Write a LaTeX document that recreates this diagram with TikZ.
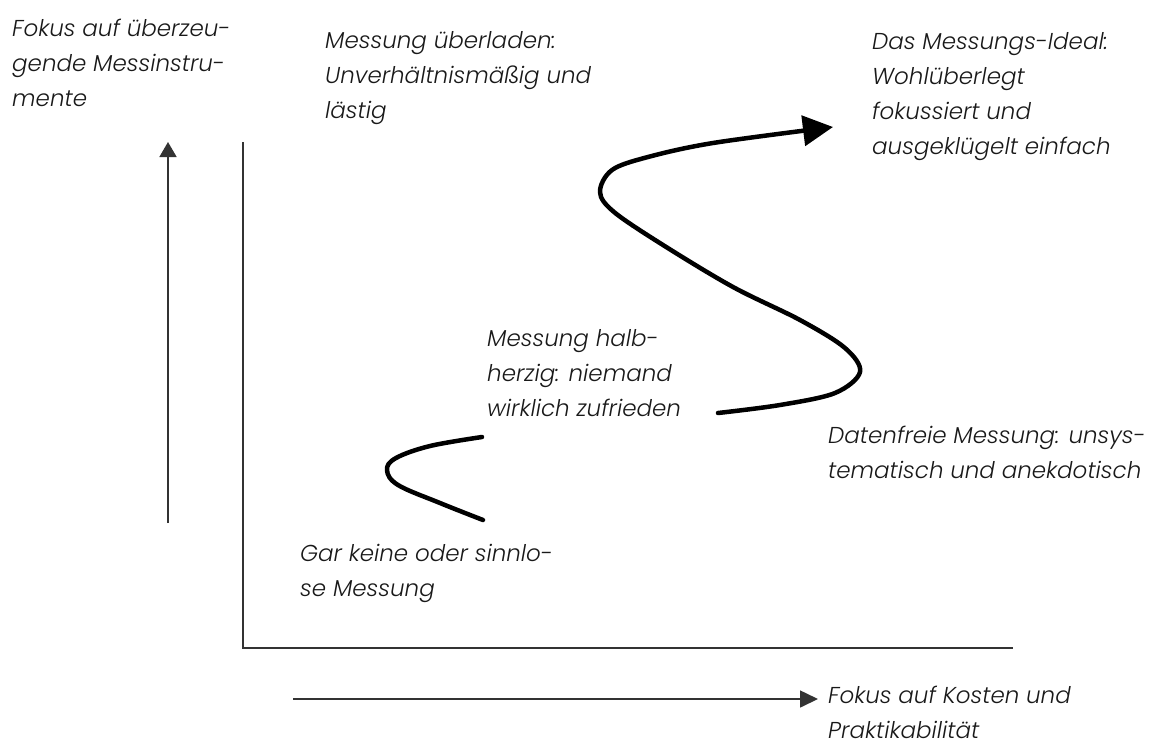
\documentclass[tikz,border=0pt]{standalone}
\usepackage{fontspec}
\setmainfont{Poppins}[UprightFont=* Light, ItalicFont=* Light Italic]
\usetikzlibrary{arrows.meta}
\tikzset{
  lbl/.style={anchor=base west, inner sep=0pt, align=left, text=black!90, font=\fontsize{23}{35}\selectfont\itshape},
  axis/.style={line width=1.6pt, black!80},
  curve/.style={line width=4.5pt, line cap=round, line join=round},
}
\begin{document}
\begin{tikzpicture}[x=1pt,y=-1pt]
\useasboundingbox (0,0) rectangle (1164,745);
% axes
\coordinate (ytop) at (243,142);
\coordinate (origin) at (243,648);
\coordinate (xend) at (1013,648);
\draw[axis] (ytop) -- (origin) -- (xend);
% direction arrows
\coordinate (ua0) at (168,523);
\coordinate (ua1) at (168,142);
\draw[axis, -{Triangle[length=15pt,width=17pt]}] (ua0) -- (ua1);
\coordinate (ra0) at (293,699);
\coordinate (ra1) at (818,699);
\draw[axis, -{Triangle[length=18pt,width=17pt]}] (ra0) -- (ra1);
% labels (anchored at the baseline of the last line)
\node[lbl] (ly) at (12,106) {Fokus auf überzeu-\\gende Messinstru-\\mente};
\node[lbl] (lover) at (325,118) {Messung überladen:\\Unverhältnismäßig und\\lästig};
\node[lbl] (lideal) at (872,154) {Das Messungs-Ideal:\\Wohlüberlegt\\fokussiert und\\ausgeklügelt einfach};
\node[lbl] (lhalf) at (487,416) {Messung halb-\\herzig: niemand\\wirklich zufrieden};
\node[lbl] (lfree) at (828,478) {Datenfreie Messung: unsys-\\tematisch und anekdotisch};
\node[lbl] (lnone) at (300,596) {Gar keine oder sinnlo-\\se Messung};
\node[lbl] (lx) at (828,738) {Fokus auf Kosten und\\Praktikabilität};
% small curve
\draw[curve] plot[smooth, tension=0.6] coordinates {(483,520) (440,503) (398,485) (387,470) (396,458) (430,446) (482,437)};
% big S curve
\draw[curve, -{Triangle[length=30pt,width=30pt]}] plot[smooth, tension=0.55] coordinates {(718,413) (780,405) (835,393) (860,372) (845,348) (800,320) (733,287) (663,245) (614,212) (600,192) (612,170) (648,157) (713,143) (833,127)};
\end{tikzpicture}
\end{document}
